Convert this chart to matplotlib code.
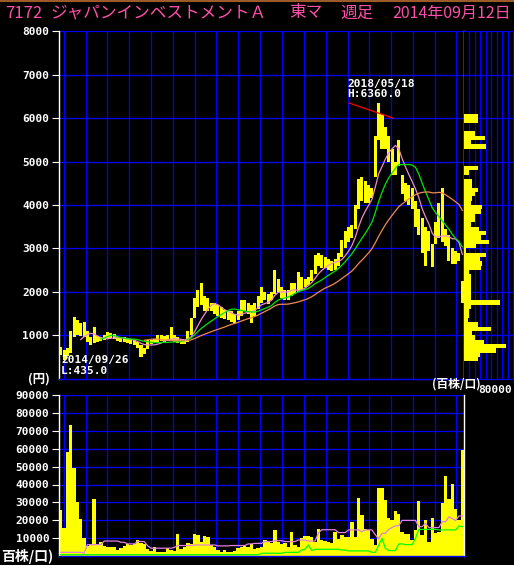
import numpy as np
import pandas as pd
import matplotlib
matplotlib.use('Agg')
import matplotlib.pyplot as plt

plt.rcParams['font.family'] = ['DejaVu Sans Mono', 'Noto Sans CJK JP']
plt.rcParams['font.weight'] = 'bold'

hi = [720, 650, 700, 1100, 1410, 1350, 1280, 1300, 1100, 960,
      1200, 980, 970, 1000, 1080, 1060, 1020, 960, 940, 960,
      930, 920, 900, 850, 780, 700, 880, 900, 920, 1000,
      1000, 980, 1000, 1200, 1000, 950, 920, 900, 1100, 1400,
      1850, 2050, 2200, 1900, 1850, 1750, 1750, 1700, 1650, 1580,
      1550, 1550, 1500, 1550, 1800, 1800, 1750, 1700, 1750, 1900,
      2100, 2000, 1960, 2000, 2500, 2300, 2100, 2050, 2050, 2200,
      2200, 2450, 2350, 2300, 2350, 2500, 2850, 2900, 2850, 2800,
      2750, 2700, 2750, 2900, 3200, 3400, 3500, 3550, 4000, 4600,
      4650, 4550, 4450, 4400, 5600, 6360, 6100, 5800, 5600, 5300,
      5000, 5500, 4700, 4500, 4450, 4400, 4100, 3900, 3700, 3500,
      3400, 3100, 3600, 4050, 4400, 3450, 3300, 3000, 2950, 2900,
      2250]
lo = [550, 435, 520, 600, 950, 1000, 980, 950, 850, 780,
      820, 850, 860, 880, 920, 930, 920, 860, 840, 850,
      830, 800, 780, 700, 500, 560, 680, 800, 820, 850,
      860, 850, 860, 880, 850, 820, 800, 790, 850, 1000,
      1400, 1650, 1700, 1550, 1550, 1550, 1500, 1450, 1400, 1380,
      1350, 1300, 1280, 1350, 1450, 1550, 1500, 1270, 1450, 1600,
      1750, 1800, 1730, 1800, 1950, 2000, 1850, 1800, 1820, 1900,
      1950, 2000, 2050, 2100, 2150, 2250, 2400, 2600, 2550, 2550,
      2500, 2480, 2500, 2600, 2800, 3000, 3150, 3250, 3450, 3900,
      4100, 4050, 4050, 4150, 4650, 5500, 5300, 5300, 5000, 4700,
      4700, 4900, 4250, 4100, 4000, 3900, 3500, 3300, 2900, 2600,
      2950, 2580, 3100, 3250, 3150, 3050, 2700, 2650, 2650, 2700,
      1750]
close = [600, 560, 650, 1000, 1250, 1150, 1100, 1050, 900, 850,
         900, 920, 900, 950, 1000, 980, 950, 900, 880, 900,
         870, 850, 820, 750, 620, 680, 830, 860, 880, 940,
         920, 900, 940, 950, 900, 860, 850, 840, 1050, 1300,
         1750, 1900, 1850, 1700, 1650, 1650, 1600, 1550, 1500, 1450,
         1450, 1400, 1400, 1500, 1700, 1650, 1600, 1500, 1650, 1850,
         1950, 1900, 1850, 1950, 2300, 2100, 1950, 1900, 1950, 2100,
         2050, 2150, 2250, 2200, 2300, 2450, 2750, 2800, 2700, 2650,
         2600, 2600, 2700, 2850, 3100, 3300, 3400, 3500, 3900, 4400,
         4300, 4200, 4250, 4350, 5500, 6000, 5600, 5500, 5200, 4900,
         4900, 5000, 4400, 4250, 4300, 4050, 3700, 3500, 3200, 3100,
         3100, 2800, 3400, 3800, 3600, 3200, 3000, 2750, 2800, 2800,
         1900]
vol = [26000, 16000, 58000, 73000, 49000, 30000, 21000, 10000, 6000, 7000,
       32000, 7000, 8200, 5800, 5000, 5400, 5000, 3500, 4500, 6000,
       7000, 6300, 7000, 9000, 7600, 7000, 3900, 3200, 5400, 2600,
       2200, 2500, 4800, 3500, 3200, 12400, 4100, 5000, 7200, 7000,
       12400, 11900, 8200, 11300, 11000, 6300, 5000, 3500, 2600, 3500,
       2200, 2500, 3200, 4500, 5000, 5800, 5000, 7000, 3900, 4500,
       5400, 9100, 8200, 7200, 14700, 8200, 7000, 7200, 5400, 13700,
       6300, 5000, 10000, 11500, 11300, 10600, 8200, 15200, 9100, 8700,
       8200, 7600, 13700, 9700, 11900, 10600, 11000, 19000, 11000, 32300,
       23000, 15200, 14700, 9700, 6300, 38300, 37900, 31400, 21400, 20000,
       25300, 23600, 13400, 12300, 12300, 9100, 14700, 30800, 11900, 20200,
       8200, 21500, 12800, 13400, 29500, 44700, 32000, 40300, 26400, 20200,
       59200]
# margin balances (buy = pink, sell = green)
buy_bal = [2200, 2200, 2200, 2200, 2200, 2200, 2200, 1700, 6500, 6500,
           6500, 6500, 6500, 8500, 8500, 8500, 8500, 8500, 7800, 7800,
           6900, 6900, 6900, 8200, 8200, 8200, 5800, 4500, 4500, 4500,
           4500, 4500, 4500, 4500, 5000, 6000, 6000, 6000, 6000, 6000,
           6300, 6300, 6300, 6300, 6300, 6300, 6300, 5800, 5800, 5800,
           5800, 6000, 6000, 6000, 6000, 6000, 6900, 6900, 7200, 7200,
           7200, 8200, 8200, 8200, 8700, 8700, 8700, 8200, 8200, 8200,
           8200, 9100, 9100, 9100, 8500, 8500, 8500, 13000, 14800, 14800,
           14800, 14800, 14800, 13200, 13200, 13200, 14700, 14700, 14700, 14700,
           13700, 14700, 14700, 14700, 12000, 9700, 12800, 12800, 15000, 16000,
           17000, 17000, 20000, 20000, 20000, 20000, 20000, 16500, 16500, 18400,
           16000, 16000, 16000, 16000, 19300, 19300, 22000, 21000, 19900, 22500,
           22500]
sell_bal = [900, 900, 900, 900, 900, 900, 900, 900, 900, 900,
            900, 900, 900, 900, 900, 900, 900, 900, 900, 900,
            900, 900, 900, 900, 900, 900, 900, 900, 900, 900,
            900, 900, 900, 900, 900, 900, 900, 900, 900, 900,
            900, 900, 900, 900, 900, 900, 900, 900, 900, 900,
            900, 900, 900, 900, 900, 900, 900, 900, 900, 900,
            1700, 1700, 1700, 1700, 1700, 1700, 1700, 2200, 2200, 2200,
            2200, 2200, 3500, 4000, 6300, 3200, 3900, 3900, 3900, 3900,
            3900, 3900, 3900, 3900, 3500, 3500, 3000, 3000, 3000, 3000,
            3000, 3000, 3000, 2200, 2200, 6000, 10000, 4500, 3200, 3200,
            3200, 6900, 6900, 6500, 6500, 6500, 10000, 15000, 15000, 15000,
            15000, 15000, 15000, 14700, 14700, 14700, 14700, 14700, 14700, 16900,
            16500]
# volume by price, 100-yen bins from 400
prof_lo = list(range(400, 6100, 100))
prof_vol = [26000, 29000, 58000, 77000, 37000, 20000, 15000, 49000, 25000, 8000,
            10000, 9000, 13000, 66000, 12000, 12000, 12000, 12000, 12000, 12000,
            10000, 32000, 33000, 29000, 40000, 4000, 22000, 45000, 32000, 40000,
            28000, 12000, 20000, 21000, 32000, 33000, 12000, 15000, 21000, 25000,
            15000, 15000, 0, 10000, 26000, 0, 0, 0, 0, 40000,
            12000, 38000, 20000, 0, 0, 26000, 26000]

price_ticks = [1000, 2000, 3000, 4000, 5000, 6000, 7000, 8000]
vol_ticks = [10000, 20000, 30000, 40000, 50000, 60000, 70000, 80000, 90000]

weeks = np.arange(len(hi)) * 2 + 1
start = pd.Timestamp('2014-09-12')
quarters = pd.date_range('2014-10-01', '2019-04-01', freq='QS')
qweeks = (quarters - start).days / 7.0

W, H = 514, 565
fig = plt.figure(figsize=(W / 100, H / 100), dpi=100, facecolor='black')


def box(l, t, r, b):
    return [l / W, 1 - b / H, (r - l) / W, (b - t) / H]


BLUE = '#0000ff'


def base(ax):
    ax.set_facecolor('black')
    ax.set_axisbelow(True)
    ax.spines['top'].set_visible(False)
    ax.spines['left'].set_color('white')
    ax.spines['right'].set_color('white')
    ax.spines['bottom'].set_color(BLUE)
    for s in ax.spines.values():
        s.set_linewidth(1.0)
    ax.set_xlim(0, 242)
    ax.set_xticks(qweeks)
    ax.tick_params(axis='x', length=0, labelbottom=False)
    ax.tick_params(axis='y', colors='white', length=5, width=0.8, labelsize=8, pad=2)
    ax.grid(True, color=BLUE, linewidth=0.9)


ax = fig.add_axes(box(59, 31.4, 464, 378.6))
base(ax)
ax.set_ylim(0, 8000)
ax.set_yticks(price_ticks)
ax.bar(weeks, np.array(hi) - np.array(lo), bottom=lo, width=1.8, color='#ffff00', linewidth=0)
cs = pd.Series(close)
ax.plot(weeks, cs.rolling(7).mean(), color='#f08cd0', lw=0.9)
ax.plot(weeks, cs.rolling(13).mean(), color='#00e600', lw=0.9)
ax.plot(weeks, cs.rolling(26).mean(), color='#f08a50', lw=0.9)
ax.plot([173.4, 199.8], [6350, 6000], color='#ff0000', lw=0.9)

vx = fig.add_axes(box(59, 394.75, 464, 556.3))
base(vx)
vx.set_ylim(0, 90000)
vx.set_yticks(vol_ticks)
vx.bar(weeks, vol, width=2.0, color='#ffff00', linewidth=0)
vx.plot(weeks, buy_bal, color='#e080e0', lw=0.9)
vx.plot(weeks, sell_bal, color='#00ff00', lw=0.9)

px = fig.add_axes(box(464, 31.4, 513, 378.6))
px.set_facecolor('black')
px.set_axisbelow(True)
for s in ['top', 'left']:
    px.spines[s].set_visible(False)
px.spines['right'].set_color(BLUE)
px.spines['bottom'].set_color(BLUE)
px.set_xlim(0, 90000)
px.set_ylim(0, 8000)
px.set_xticks([10000, 20000, 30000, 40000, 50000, 60000, 70000, 80000])
px.set_xticks([80000], minor=True)
px.set_yticks(price_ticks)
px.tick_params(which='major', length=0, labelbottom=False, labelleft=False)
px.tick_params(which='minor', axis='x', length=5, color='white', width=0.8)
px.grid(True, which='major', color=BLUE, linewidth=0.9)
px.barh(np.array(prof_lo) + 50, prof_vol, height=100, color='#ffff00', linewidth=0)

# texts
jp = ['Noto Sans CJK JP']
pink = '#ff50a8'
ty = 1 - 13 / H
fig.text(5 / W, ty, '7172', color=pink, fontsize=12, family=jp, weight='normal', va='center')
fig.text(50 / W, ty, 'ジャパンインベストメントＡ', color=pink, fontsize=12,
         family=jp, weight='normal', va='center')
fig.text(289 / W, ty, '東マ', color=pink, fontsize=12, family=jp, weight='normal', va='center')
fig.text(340 / W, ty, '週足', color=pink, fontsize=12, family=jp, weight='normal', va='center')
fig.text(511 / W, ty, '2014年09月12日', color=pink, fontsize=11.5, family=jp,
         weight='normal', ha='right', va='center')

fig.text(347 / W, 1 - 87 / H, '2018/05/18', color='white', fontsize=8, va='baseline')
fig.text(347 / W, 1 - 97 / H, 'H:6360.0', color='white', fontsize=8, va='baseline')
fig.text(61 / W, 1 - 363 / H, '2014/09/26', color='white', fontsize=8, va='baseline')
fig.text(61 / W, 1 - 374 / H, 'L:435.0', color='white', fontsize=8, va='baseline')

fig.text(50 / W, 1 - 379 / H, '(円)', color='white', fontsize=9, family=jp, ha='right', va='center')
fig.text(432 / W, 1 - 384 / H, '(百株/口)', color='white', fontsize=8.5, family=jp, va='center')
fig.text(512 / W, 1 - 393 / H, '80000', color='white', fontsize=8, ha='right', va='baseline')
fig.text(1 / W, 1 - 557 / H, '百株/口)', color='white', fontsize=10, family=jp, ha='left', va='center')

fig.add_artist(plt.Rectangle((0, 1 - 2 / H), 1, 2 / H, transform=fig.transFigure,
                             color='#9c5a28', linewidth=0))

fig.savefig('out.png', dpi=100, facecolor='black')
